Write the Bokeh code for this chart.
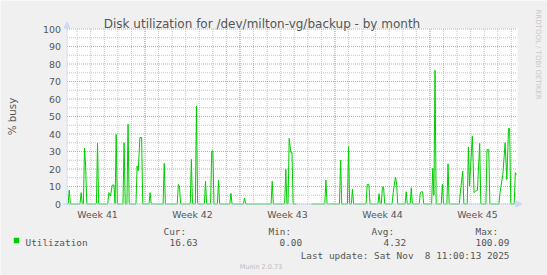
import numpy as np
from bokeh.plotting import figure
from bokeh.models import Label, Arrow, NormalHead, BoxAnnotation, Range1d
from bokeh.core.properties import value
from bokeh.embed import file_html
from bokeh.resources import INLINE

nan = float("nan")

# hours since start of the graph (33 days shown, 2h averages) and % busy
hours = [0, 2, 4, 6,
         23, 25, 27, 29, 31, 33, 35,
         52, 54, 56,
         72, 74, 77, 80, 83, 85, 87, 89,
         99, 101, 103, 106, 108, 110,
         122, 124, 126, 129, 132, 134,
         145, 147, 149, 170, 172, 174,
         195, 197, 199, 201, 218, 220, 222, 227, 229, 231,
         243, 245, 247, 254, 256, 258, 260, 266, 268, 270,
         288, 290, 292, 312, 314, 316, 361, 363, 365,
         385, 387, 389, 391, 393, 396, 398, 400, 406, 407, 433,
         456, 458, 460, 482, 484, 486, 496, 498, 500, 503, 505, 507,
         529, 531, 534, 536, 550, 552, 554, 556, 558, 560, 562,
         575, 577, 581, 583, 585, 598, 600, 602, 607, 609, 611,
         623, 625, 627, 629, 631, 645, 647, 649, 651, 653,
         662, 664, 666, 672, 674, 676, 694, 696, 700, 702,
         708, 710, 712, 717, 720, 723, 726, 730, 732,
         741, 743, 746, 748,
         764, 766, 771, 775, 778, 781, 783, 785,
         791, 793, 795]
util = [0, 0, 8.0, 0,
        0, 6.5, 0, 0, 32.0, 21.7, 0,
        0, 34.7, 0,
        0, 6.5, 4.6, 10.8, 10.8, 0, 39.8, 0,
        0, 35.0, 0, 0, 45.5, 0,
        0, 21.7, 19.0, 38.0, 38.0, 0,
        0, 6.5, 0, 0, 23.2, 0,
        0, 11.2, 10.0, 0, 0, 25.5, 0, 0, 56.0, 0,
        0, 13.0, 0, 0, 30.3, 30.3, 0, 0, 13.7, 0,
        0, 6.1, 0, 0, 3.4, 0, 0, 13.0, 0,
        0, 19.8, 0, 0, 37.5, 29.5, 29.5, 0, 0, nan, 0,
        0, 13.7, 0, 0, 25.1, 0, 0, 32.8, 0, 0, 8.4, 0,
        0, 11.2, 11.2, 0, 0, 5.9, 0, 0, 9.7, 9.7, 0,
        0, 6.5, 15.4, 12.0, 0, 0, 7.0, 0, 0, 9.3, 0,
        0, 6.5, 7.0, 7.0, 0, 0, 20.4, 5.0, 76.4, 0,
        0, 11.2, 0, 0, 23.0, 0, 0, 7.4, 18.7, 0,
        0, 32.6, 10.3, 38.9, 6.5, 7.4, 7.8, 34.7, 0,
        0, 31.2, 31.2, 0,
        0, 6.5, 17.0, 35.0, 14.0, 43.2, 43.2, 0,
        0, 17.9, 16.63]

week_labels = ["Week 41", "Week 42", "Week 43", "Week 44", "Week 45"]
week_label_hours = [54, 222, 390, 558, 726]
week_start_hours = [138, 306, 474, 642]
day_hours = list(range(18, 796, 24))
y_ticks = list(range(0, 101, 10))
y_minor = list(range(5, 100, 10))
span_hours = 796

title = "Disk utilization for /dev/milton-vg/backup - by month"
y_label = "% busy"
series_name = "Utilization"
stat_headers = ["Cur:", "Min:", "Avg:", "Max:"]
stat_values = ["16.63", "0.00", "4.32", "100.09"]
last_update = "Last update: Sat Nov \u00a08 11:00:13 2025"
version = "Munin 2.0.73"
watermark = "RRDTOOL / TOBI OETIKER"

FONT = "DejaVu Sans"
MONO = "DejaVu Sans Mono"
TXT = "#555555"
AXIS = "#CFD6F8"
W, H = 547, 275

# plot area in pixels: x 66.5 (t=0) .. 516.5 (t=span), y 203.5 (0%) .. 28.5 (100%)
PX0, PX1 = 66.5, 516.5
PY0, PY1 = 203.5, 28.5
hpp = span_hours / (PX1 - PX0)          # hours per pixel
vpp = 100.0 / (PY0 - PY1)               # % per pixel

p = figure(width=W, height=H, output_backend="svg", toolbar_location=None,
           x_range=Range1d(-PX0 * hpp, (W - PX0) * hpp),
           y_range=Range1d(-(H - PY0) * vpp, PY0 * vpp),
           min_border=0, min_border_left=0, min_border_right=0,
           min_border_top=0, min_border_bottom=0,
           x_axis_location=None, y_axis_location=None,
           background_fill_color="#f0f0f0", border_fill_color="#f0f0f0",
           outline_line_color=None)
p.xgrid.visible = False
p.ygrid.visible = False

# white canvas
p.add_layout(BoxAnnotation(left=-0.5 * hpp, right=span_hours + 0.5 * hpp,
                           bottom=-0.5 * vpp, top=100 + 0.5 * vpp,
                           fill_color="#ffffff", fill_alpha=1.0, line_color=None,
                           level="image"))

# grid: minor (grey) then major (red)
GREY = "#c4c4c4"
RED = "#e49a9a"
p.segment(x0=day_hours, y0=[0] * len(day_hours), x1=day_hours, y1=[100] * len(day_hours),
          line_color=GREY, line_width=1, line_dash="1 1")
p.segment(x0=[0] * len(y_minor), y0=y_minor, x1=[span_hours] * len(y_minor), y1=y_minor,
          line_color=GREY, line_width=1, line_dash="1 1")
p.segment(x0=week_start_hours, y0=[0] * len(week_start_hours),
          x1=week_start_hours, y1=[100] * len(week_start_hours),
          line_color=RED, line_width=1, line_dash="1 1")
p.segment(x0=[0] * len(y_ticks), y0=y_ticks, x1=[span_hours] * len(y_ticks), y1=y_ticks,
          line_color=RED, line_width=1, line_dash="1 1")

# axis arrows (rrdtool style)
p.add_layout(Arrow(x_start=0, y_start=-1 * vpp, x_end=0, y_end=100 + 7 * vpp,
                   line_color=AXIS, line_width=1,
                   end=NormalHead(size=6, fill_color=AXIS, line_color=AXIS)))
p.add_layout(Arrow(x_start=-4 * hpp, y_start=0, x_end=span_hours + 5 * hpp, y_end=0,
                   line_color=AXIS, line_width=1,
                   end=NormalHead(size=6, fill_color=AXIS, line_color=AXIS)))

# data
p.line(hours, np.array(util, dtype=float), line_color="#00cc00", line_width=1)

# tick labels
p.text(x=[0] * len(y_ticks), y=y_ticks, text=[str(v) for v in y_ticks],
       x_offset=-6, text_align="right", text_baseline="middle",
       text_font=value(FONT), text_font_size="9.4px", text_color=TXT)
p.text(x=week_label_hours, y=[0] * len(week_label_hours), text=week_labels,
       y_offset=5, text_align="center", text_baseline="top",
       text_font=value(FONT), text_font_size="9.4px", text_color=TXT)


def lab(text, X, Y, size="9.4px", font=MONO, color=TXT, align="left",
        baseline="alphabetic", angle=0.0):
    p.add_layout(Label(x=X, y=H - Y, x_units="screen", y_units="screen",
                       text=text, text_font=font, text_font_size=size,
                       text_color=color, text_align=align,
                       text_baseline=baseline, angle=angle))


lab(title, 261.5, 23, size="12px", font=FONT, align="center")
lab(y_label, 11, 116, size="10.3px", font=FONT, align="center",
    baseline="middle", angle=np.pi / 2)
lab(watermark, 537.5, 9, size="7px", font=FONT, color="#c8c8c8",
    baseline="middle", angle=-np.pi / 2)

header_x = [163, 268, 371, 475]
value_x = [169, 279, 383, 475]
for t, X in zip(stat_headers, header_x):
    lab(t, X, 231)
for t, X in zip(stat_values, value_x):
    lab(t, X, 242)
lab(series_name, 25, 242)
lab(last_update, 509, 254.5, align="right")
lab(version, 260.5, 266.5, size="6.5px", font=FONT, color="#bbbbbb", align="center")

p.add_layout(BoxAnnotation(left=13.3, right=18.7, top=H - 237.3, bottom=H - 242.7,
                           left_units="screen", right_units="screen",
                           top_units="screen", bottom_units="screen",
                           fill_color="#00cc00", fill_alpha=1.0, line_color=None))

open("out.html", "w").write(file_html(p, INLINE))
